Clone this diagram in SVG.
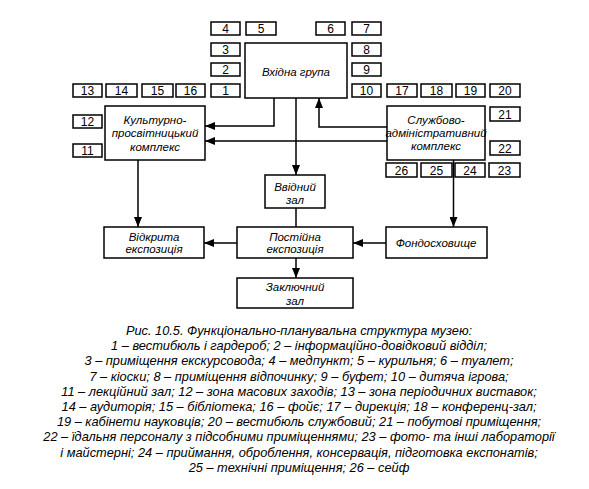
<svg xmlns="http://www.w3.org/2000/svg" width="589" height="489" viewBox="0 0 589 489">
<defs>
<marker id="ah" markerUnits="userSpaceOnUse" markerWidth="10" markerHeight="8" refX="10" refY="4" orient="auto">
<path d="M0,0 L10,4 L0,8 z" fill="#000"/>
</marker>
<style>
.box{fill:#fff;stroke:#000;stroke-width:1.5}
.num{font-family:"Liberation Sans",Arial,sans-serif;font-size:12px;text-anchor:middle;fill:#000}
.lbl{font-family:"Liberation Sans",Arial,sans-serif;font-size:11.5px;font-style:italic;text-anchor:middle;fill:#000}
.cap{font-family:"Liberation Sans",Arial,sans-serif;font-size:12.8px;font-style:italic;text-anchor:middle;fill:#000}
.con{fill:none;stroke:#000;stroke-width:1.5}
</style>
</defs>
<rect width="589" height="489" fill="#fff"/>
<g id="connectors">
<path class="con" d="M274,98 V126 H205" marker-end="url(#ah)"/>
<path class="con" d="M387,141 H205" marker-end="url(#ah)"/>
<path class="con" d="M296,98 V175" marker-end="url(#ah)"/>
<path class="con" d="M387,127 H319 V98" marker-end="url(#ah)"/>
<path class="con" d="M138,160 V227" marker-end="url(#ah)"/>
<path class="con" d="M453.5,160 V227" marker-end="url(#ah)"/>
<path class="con" d="M296,208 V227"/>
<path class="con" d="M237,243 H204" marker-end="url(#ah)"/>
<path class="con" d="M386,243 H353" marker-end="url(#ah)"/>
<path class="con" d="M296,258 V278" marker-end="url(#ah)"/>
</g>
<g id="vhidna"><rect class="box" x="245" y="43" width="102" height="55"/><text class="lbl" x="296" y="76">Вхідна група</text></g>
<g id="kult"><rect class="box" x="105" y="106" width="100" height="54"/><text class="lbl" x="155" y="124">Культурно-</text><text class="lbl" x="155" y="137">просвітницький</text><text class="lbl" x="155" y="151">комплекс</text></g>
<g id="sluzh"><rect class="box" x="387" y="106" width="98" height="54"/><text class="lbl" x="436" y="124">Службово-</text><text class="lbl" x="436" y="137">адміністративний</text><text class="lbl" x="436" y="150">комплекс</text></g>
<g id="vvidnyi"><rect class="box" x="265" y="175" width="60" height="33"/><text class="lbl" x="295" y="191">Ввідний</text><text class="lbl" x="295" y="204">зал</text></g>
<g id="vidkryta"><rect class="box" x="104" y="227" width="100" height="31"/><text class="lbl" x="154" y="241">Відкрита</text><text class="lbl" x="154" y="253">експозиція</text></g>
<g id="postiina"><rect class="box" x="237" y="227" width="116" height="31"/><text class="lbl" x="295" y="241">Постійна</text><text class="lbl" x="295" y="253">експозиція</text></g>
<g id="fond"><rect class="box" x="386" y="227" width="101" height="31"/><text class="lbl" x="436" y="247">Фондосховище</text></g>
<g id="zakl"><rect class="box" x="237" y="278" width="116" height="30"/><text class="lbl" x="295" y="291">Заключний</text><text class="lbl" x="295" y="305">зал</text></g>
<g id="n1"><rect class="box" x="211" y="84" width="29" height="13"/><text class="num" x="225.5" y="95">1</text></g>
<g id="n2"><rect class="box" x="211" y="63" width="29" height="13"/><text class="num" x="225.5" y="74">2</text></g>
<g id="n3"><rect class="box" x="211" y="43" width="29" height="13"/><text class="num" x="225.5" y="54">3</text></g>
<g id="n4"><rect class="box" x="211" y="22" width="29" height="13"/><text class="num" x="225.5" y="33">4</text></g>
<g id="n5"><rect class="box" x="246" y="22" width="30" height="13"/><text class="num" x="261" y="33">5</text></g>
<g id="n6"><rect class="box" x="316" y="22" width="29" height="13"/><text class="num" x="330.5" y="33">6</text></g>
<g id="n7"><rect class="box" x="352" y="22" width="29" height="13"/><text class="num" x="366.5" y="33">7</text></g>
<g id="n8"><rect class="box" x="352" y="43" width="29" height="13"/><text class="num" x="366.5" y="54">8</text></g>
<g id="n9"><rect class="box" x="352" y="63" width="29" height="13"/><text class="num" x="366.5" y="74">9</text></g>
<g id="n10"><rect class="box" x="352" y="84" width="29" height="13"/><text class="num" x="366.5" y="95">10</text></g>
<g id="n13"><rect class="box" x="73" y="84" width="29" height="13"/><text class="num" x="87.5" y="95">13</text></g>
<g id="n14"><rect class="box" x="106" y="84" width="31" height="13"/><text class="num" x="121.5" y="95">14</text></g>
<g id="n15"><rect class="box" x="142" y="84" width="31" height="13"/><text class="num" x="157.5" y="95">15</text></g>
<g id="n16"><rect class="box" x="176" y="84" width="29" height="13"/><text class="num" x="190.5" y="95">16</text></g>
<g id="n17"><rect class="box" x="387" y="84" width="30" height="13"/><text class="num" x="402" y="95">17</text></g>
<g id="n18"><rect class="box" x="421" y="84" width="31" height="13"/><text class="num" x="436.5" y="95">18</text></g>
<g id="n19"><rect class="box" x="456" y="84" width="29" height="13"/><text class="num" x="470.5" y="95">19</text></g>
<g id="n20"><rect class="box" x="490" y="84" width="30" height="13"/><text class="num" x="505" y="95">20</text></g>
<g id="n12"><rect class="box" x="73" y="115" width="29" height="13"/><text class="num" x="87.5" y="126">12</text></g>
<g id="n11"><rect class="box" x="73" y="144" width="29" height="13"/><text class="num" x="87.5" y="155">11</text></g>
<g id="n21"><rect class="box" x="490" y="107" width="30" height="14"/><text class="num" x="505" y="119">21</text></g>
<g id="n22"><rect class="box" x="490" y="141" width="30" height="14"/><text class="num" x="505" y="153">22</text></g>
<g id="n26"><rect class="box" x="386" y="163" width="31" height="14"/><text class="num" x="401.5" y="175">26</text></g>
<g id="n25"><rect class="box" x="421" y="163" width="31" height="14"/><text class="num" x="436.5" y="175">25</text></g>
<g id="n24"><rect class="box" x="455" y="163" width="30" height="14"/><text class="num" x="470" y="175">24</text></g>
<g id="n23"><rect class="box" x="489" y="163" width="31" height="14"/><text class="num" x="504.5" y="175">23</text></g>
<g id="caption">
<text class="cap" x="299" y="335">Рис. 10.5. Функціонально-планувальна структура музею:</text>
<text class="cap" x="299" y="350.2">1 – вестибюль і гардероб; 2 – інформаційно-довідковий відділ;</text>
<text class="cap" x="299" y="365.4">3 – приміщення екскурсовода; 4 – медпункт; 5 – курильня; 6 – туалет;</text>
<text class="cap" x="299" y="380.6">7 – кіоски; 8 – приміщення відпочинку; 9 – буфет; 10 – дитяча ігрова;</text>
<text class="cap" x="299" y="395.8">11 – лекційний зал; 12 – зона масових заходів; 13 – зона періодичних виставок;</text>
<text class="cap" x="299" y="411">14 – аудиторія; 15 – бібліотека; 16 – фойє; 17 – дирекція; 18 – конференц-зал;</text>
<text class="cap" x="299" y="426.2">19 – кабінети науковців; 20 – вестибюль службовий; 21 – побутові приміщення;</text>
<text class="cap" x="299" y="441.4">22 – їдальня персоналу з підсобними приміщеннями; 23 – фото- та інші лабораторії</text>
<text class="cap" x="299" y="456.6">і майстерні; 24 – приймання, оброблення, консервація, підготовка експонатів;</text>
<text class="cap" x="299" y="471.8">25 – технічні приміщення; 26 – сейф</text>
</g>
</svg>
